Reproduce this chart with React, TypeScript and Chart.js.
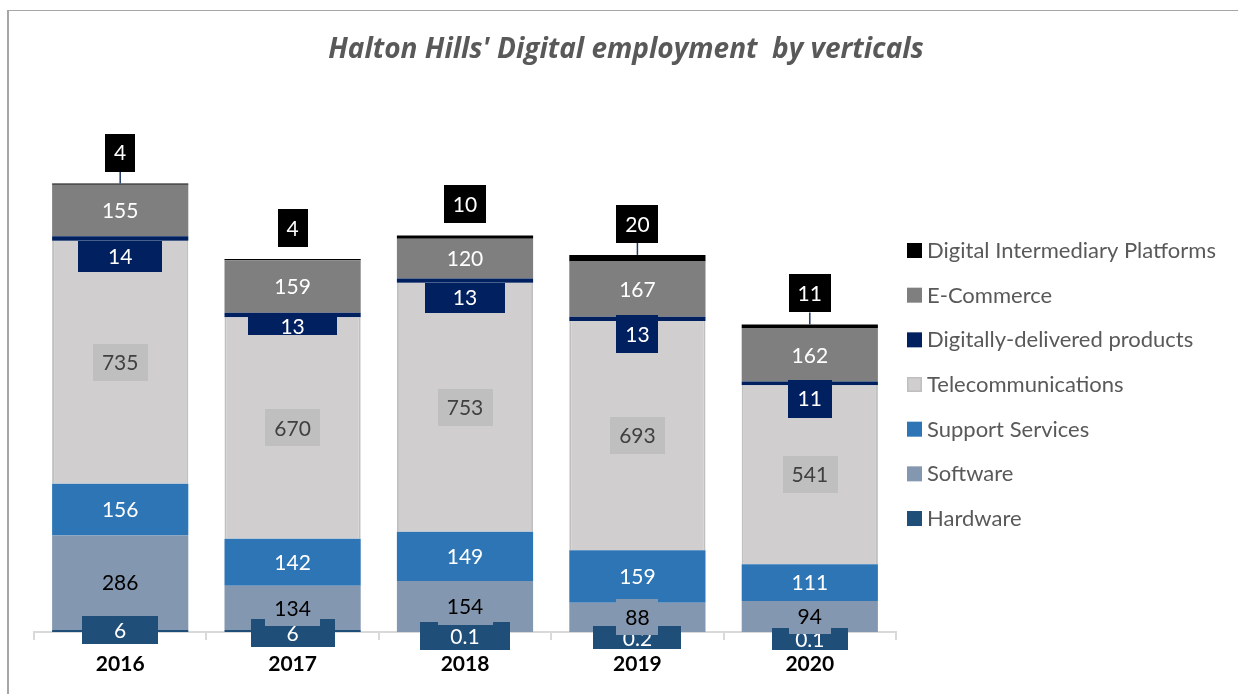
import React, { useEffect, useRef } from 'react';
import { Chart, registerables } from 'chart.js';

Chart.register(...registerables);

// ---------- data ----------
const years = ['2016', '2017', '2018', '2019', '2020'];
const hardware = [6, 6, 0.1, 0.2, 0.1];
const software = [286, 134, 154, 88, 94];
const supportServices = [156, 142, 149, 159, 111];
const telecommunications = [735, 670, 753, 693, 541];
const digitallyDelivered = [14, 13, 13, 13, 11];
const eCommerce = [155, 159, 120, 167, 162];
const intermediaryPlatforms = [4, 4, 10, 20, 11];
const seriesNames = [
  'Hardware',
  'Software',
  'Support Services',
  'Telecommunications',
  'Digitally-delivered products',
  'E-Commerce',
  'Digital Intermediary Platforms',
];
const titleText = "Halton Hills' Digital employment  by verticals";

// ---------- styles ----------
const FONT = 'Lato, "Open Sans", "DejaVu Sans", sans-serif';
const TITLE_FONT = '"Open Sans", Lato, sans-serif';
const seriesColors = ['#1f4e79', '#8497b0', '#2e75b6', '#d0cece', '#002060', '#7f7f7f', '#000000'];

type LabelStyle = {
  bg: string;
  color: string;
  mode: 'center' | 'anchored' | 'above';
  padX: number;
  h: number;
  heights?: number[];
  widths?: number[];
  dy?: number[];
  anchors?: ('base' | 'top')[];
  leader?: boolean[];
};

const labelStyles: LabelStyle[] = [
  {
    bg: '#1f4e79',
    color: '#ffffff',
    mode: 'center',
    padX: 32,
    h: 28,
    widths: [76, 84, 90, 88, 76],
    heights: [28, 28, 28, 23, 22],
    dy: [-1, 2, 4, 6, 7],
  },
  { bg: '#8497b0', color: '#000000', mode: 'center', padX: 9, h: 36 },
  { bg: '#2e75b6', color: '#ffffff', mode: 'center', padX: 9, h: 36 },
  { bg: '#bfbfbf', color: '#404040', mode: 'center', padX: 9, h: 37 },
  {
    bg: '#002060',
    color: '#ffffff',
    mode: 'anchored',
    padX: 9,
    h: 34,
    widths: [84, 89, 80, 42, 44],
    heights: [31, 18, 30, 38, 38],
    anchors: ['base', 'base', 'base', 'top', 'top'],
  },
  { bg: '#7f7f7f', color: '#ffffff', mode: 'center', padX: 9, h: 36 },
  { bg: '#000000', color: '#ffffff', mode: 'above', padX: 9, h: 38, leader: [true, false, false, true, true] },
];

const labelPlugin = {
  id: 'segmentLabels',
  afterDatasetsDraw(chart: any) {
    const ctx: CanvasRenderingContext2D = chart.ctx;
    ctx.save();
    ctx.font = `21px ${FONT}`;
    ctx.textAlign = 'center';
    ctx.textBaseline = 'middle';
    chart.data.datasets.forEach((ds: any, i: number) => {
      const st = labelStyles[i];
      const meta = chart.getDatasetMeta(i);
      meta.data.forEach((el: any, j: number) => {
        const txt = String(ds.data[j]);
        const tw = ctx.measureText(txt).width;
        const w = st.widths ? st.widths[j] : tw + st.padX * 2;
        const h = st.heights ? st.heights[j] : st.h;
        const top = Math.min(el.y, el.base);
        const bottom = Math.max(el.y, el.base);
        let cy = (top + bottom) / 2 + (st.dy ? st.dy[j] : 0);
        if (st.mode === 'anchored') {
          const a = st.anchors ? st.anchors[j] : 'top';
          cy = (a === 'base' ? bottom : top - 2) + h / 2;
        }
        if (st.mode === 'above') {
          cy = top - 12 - h / 2;
          if (st.leader && st.leader[j]) {
            ctx.strokeStyle = '#203864';
            ctx.lineWidth = 1.5;
            ctx.beginPath();
            ctx.moveTo(el.x, top - 12);
            ctx.lineTo(el.x, top);
            ctx.stroke();
          }
        }
        ctx.fillStyle = st.bg;
        ctx.fillRect(Math.round(el.x - w / 2), Math.round(cy - h / 2), Math.round(w), h);
        ctx.fillStyle = st.color;
        ctx.fillText(txt, el.x, cy + 1);
      });
    });
    ctx.restore();
  },
};

const legendPlugin = {
  id: 'sideLegend',
  afterDraw(chart: any) {
    const ctx: CanvasRenderingContext2D = chart.ctx;
    ctx.save();
    ctx.font = `22px ${FONT}`;
    ctx.textAlign = 'left';
    ctx.textBaseline = 'middle';
    const n = chart.data.datasets.length;
    const x0 = chart.chartArea.right + 11;
    const yStart = 250;
    const step = 44.67;
    for (let k = 0; k < n; k++) {
      const i = n - 1 - k;
      const ds = chart.data.datasets[i];
      const y = yStart + k * step;
      ctx.fillStyle = ds.backgroundColor;
      ctx.fillRect(x0, y - 7, 15, 15);
      if (i === 3) {
        ctx.strokeStyle = '#bfbfbf';
        ctx.lineWidth = 1.5;
        ctx.strokeRect(x0 + 0.75, y - 6.25, 13.5, 13.5);
      }
      ctx.fillStyle = '#595959';
      ctx.fillText(ds.label, x0 + 20, y + 1);
    }
    ctx.restore();
  },
};

const titlePlugin = {
  id: 'customTitle',
  afterDraw(chart: any) {
    const ctx: CanvasRenderingContext2D = chart.ctx;
    ctx.save();
    ctx.font = `italic bold 28px ${TITLE_FONT}`;
    ctx.fillStyle = '#595959';
    ctx.textAlign = 'center';
    ctx.textBaseline = 'middle';
    ctx.fillText(titleText, 626, 50);
    ctx.restore();
  },
};

export default function App() {
  const ref = useRef<HTMLCanvasElement | null>(null);

  useEffect(() => {
    if (!ref.current) return;
    const seriesData = [
      hardware,
      software,
      supportServices,
      telecommunications,
      digitallyDelivered,
      eCommerce,
      intermediaryPlatforms,
    ];
    const datasets = seriesData.map((d, i) => ({
      label: seriesNames[i],
      data: d,
      backgroundColor: seriesColors[i],
      borderColor: i === 3 ? '#bfbfbf' : seriesColors[i],
      borderWidth: i === 3 ? { left: 2, right: 2, top: 0, bottom: 0 } : 0,
      borderSkipped: false as const,
      categoryPercentage: 1,
      barPercentage: 0.79,
    }));

    const chart = new Chart(ref.current, {
      type: 'bar',
      data: { labels: years, datasets },
      plugins: [labelPlugin, legendPlugin, titlePlugin],
      options: {
        animation: false,
        responsive: false,
        maintainAspectRatio: false,
        layout: { padding: { top: 169, left: 34, right: 342, bottom: 0 } },
        plugins: {
          legend: { display: false },
          title: { display: false },
          tooltip: { enabled: false },
        },
        scales: {
          x: {
            stacked: true,
            afterFit: (scale: any) => {
              scale.height = 62;
            },
            grid: {
              display: true,
              offset: true,
              drawOnChartArea: false,
              drawTicks: true,
              tickLength: 8,
              color: '#d9d9d9',
              lineWidth: 2,
            },
            border: { display: true, color: '#d9d9d9', width: 2 },
            ticks: {
              color: '#000000',
              font: { family: FONT, size: 21, weight: 'bold' },
              padding: 12,
              maxRotation: 0,
            },
          },
          y: {
            stacked: true,
            display: false,
            min: 0,
            max: 1400,
          },
        },
      },
    });
    return () => chart.destroy();
  }, []);

  return (
    <div>
      <div
        style={{
          position: 'absolute',
          left: 7,
          top: 10,
          width: 1231,
          height: 684,
          boxSizing: 'border-box',
          borderTop: '1px solid #a6a6a6',
          borderLeft: '2px solid #a6a6a6',
        }}
      />
      <canvas
        ref={ref}
        width={1238}
        height={694}
        style={{ position: 'absolute', left: 0, top: 0, width: 1238, height: 694, display: 'block' }}
      />
    </div>
  );
}
